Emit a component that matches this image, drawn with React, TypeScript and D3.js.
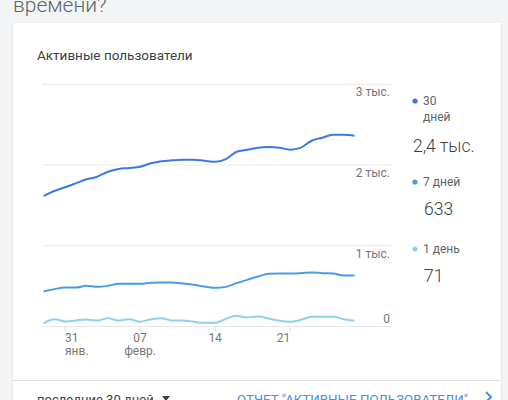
import React from "react";
import * as d3 from "d3";

const startDate = new Date(2021, 0, 29);
const days30 = [1616, 1678, 1724, 1773, 1823, 1855, 1917, 1950, 1963, 1979, 2021, 2046, 2058, 2066, 2066, 2053, 2041, 2074, 2165, 2190, 2215, 2223, 2215, 2190, 2215, 2301, 2339, 2376, 2376, 2363];
const days7 = [434, 463, 483, 483, 504, 491, 504, 529, 529, 529, 541, 545, 545, 533, 516, 496, 479, 491, 537, 578, 620, 653, 657, 657, 661, 669, 661, 657, 632, 633];
const days1 = [41, 91, 62, 74, 87, 74, 103, 74, 91, 58, 91, 103, 74, 74, 58, 45, 45, 95, 132, 112, 124, 99, 70, 58, 83, 120, 120, 120, 91, 71];
const yTicks = [0, 1000, 2000, 3000];
const yTickLabels = ["0", "1 тыс.", "2 тыс.", "3 тыс."];
const xTickDates = [new Date(2021, 0, 31), new Date(2021, 1, 7), new Date(2021, 1, 14), new Date(2021, 1, 21)];
const xTickDay = ["31", "07", "14", "21"];
const xTickMonth = ["янв.", "февр.", "", ""];
const legendNames = ["30 дней", "7 дней", "1 день"];
const legendValues = ["2,4 тыс.", "633", "71"];
const colors = ["#3b78e7", "#4a9be6", "#8fd0ec"];

const dates = days30.map((_, i) => d3.timeDay.offset(startDate, i));

export default function App() {
  const x = d3.scaleTime().domain([dates[0], dates[dates.length - 1]]).range([43.6, 354.5]);
  const y = d3.scaleLinear().domain([0, 3000]).range([326.5, 84.3]);
  const line = d3
    .line<number>()
    .x((_, i) => x(dates[i]))
    .y((d) => y(d))
    .curve(d3.curveMonotoneX);
  const series = [days30, days7, days1];
  const font = "Roboto, 'Noto Sans', sans-serif";

  return (
    <svg width={508} height={400} style={{ position: "absolute", left: 0, top: 0 }} fontFamily={font}>
      <defs>
        <filter id="sh" x="-5%" y="-5%" width="110%" height="110%">
          <feDropShadow dx="0" dy="1" stdDeviation="1" floodColor="#000" floodOpacity="0.15" />
        </filter>
      </defs>
      <rect x={0} y={0} width={508} height={400} fill="#f3f4f5" />
      <text x={13} y={12} fontSize={21} fill="#5f6368" fontWeight={300}>времени?</text>
      <rect x={13} y={23} width={488} height={400} fill="#fff" filter="url(#sh)" />
      <text x={37} y={60} fontSize={13.5} fill="#3c4043">Активные пользователи</text>

      {yTicks.map((t, i) => (
        <g key={t}>
          <line x1={42} x2={392} y1={y(t)} y2={y(t)} stroke={t === 0 ? "#e6e6e6" : "#e8e8e8"} strokeWidth={1} />
          <text
            x={390}
            y={t === 0 ? y(t) - 4 : y(t) + 12}
            textAnchor="end"
            fontSize={12}
            fill="#757575"
          >
            {yTickLabels[i]}
          </text>
        </g>
      ))}

      {xTickDates.map((d, i) => {
        const anchor = i === 0 ? "start" : i === xTickDates.length - 1 ? "end" : "middle";
        const px = x(d);
        return (
          <g key={i}>
            <line x1={px} x2={px} y1={y(0)} y2={y(0) + 5} stroke="#dcdcdc" />
            <text x={px} y={342} textAnchor={anchor} fontSize={12} fill="#757575">{xTickDay[i]}</text>
            {xTickMonth[i] && (
              <text x={px} y={355} textAnchor={anchor} fontSize={12} fill="#757575">{xTickMonth[i]}</text>
            )}
          </g>
        );
      })}

      {series
        .slice()
        .reverse()
        .map((s, ri) => {
          const i = series.length - 1 - ri;
          return <path key={i} d={line(s) || ""} fill="none" stroke={colors[i]} strokeWidth={2} strokeLinejoin="round" />;
        })}

      {/* legend */}
      <circle cx={415} cy={101} r={2.6} fill={colors[0]} />
      <text x={423} y={105} fontSize={12} fill="#5f6368">{legendNames[0].split(" ")[0]}</text>
      <text x={423} y={121} fontSize={12} fill="#5f6368">{legendNames[0].split(" ")[1]}</text>
      <text x={413} y={152} fontSize={17.5} fill="#3c4043" fontWeight={300}>{legendValues[0]}</text>

      <circle cx={415} cy={182} r={2.6} fill={colors[1]} />
      <text x={423} y={186} fontSize={12} fill="#5f6368">{legendNames[1]}</text>
      <text x={424} y={215} fontSize={17.5} fill="#3c4043" fontWeight={300}>{legendValues[1]}</text>

      <circle cx={415} cy={249} r={2.6} fill={colors[2]} />
      <text x={423} y={253} fontSize={12} fill="#5f6368">{legendNames[2]}</text>
      <text x={424} y={282} fontSize={17.5} fill="#3c4043" fontWeight={300}>{legendValues[2]}</text>

      {/* footer */}
      <line x1={13} x2={501} y1={380.5} y2={380.5} stroke="#e0e0e0" />
      <text x={37} y={404} fontSize={13} fill="#3c4043">последние 30 дней</text>
      <path d="M162,396 L170,396 L166,401 Z" fill="#3c4043" />
      <text x={237} y={404} fontSize={13.3} fill="#4a8fdb">ОТЧЕТ "АКТИВНЫЕ ПОЛЬЗОВАТЕЛИ"</text>
      <path d="M486,392 L491,397 L486,402" fill="none" stroke="#4a8fdb" strokeWidth={2} />
    </svg>
  );
}
